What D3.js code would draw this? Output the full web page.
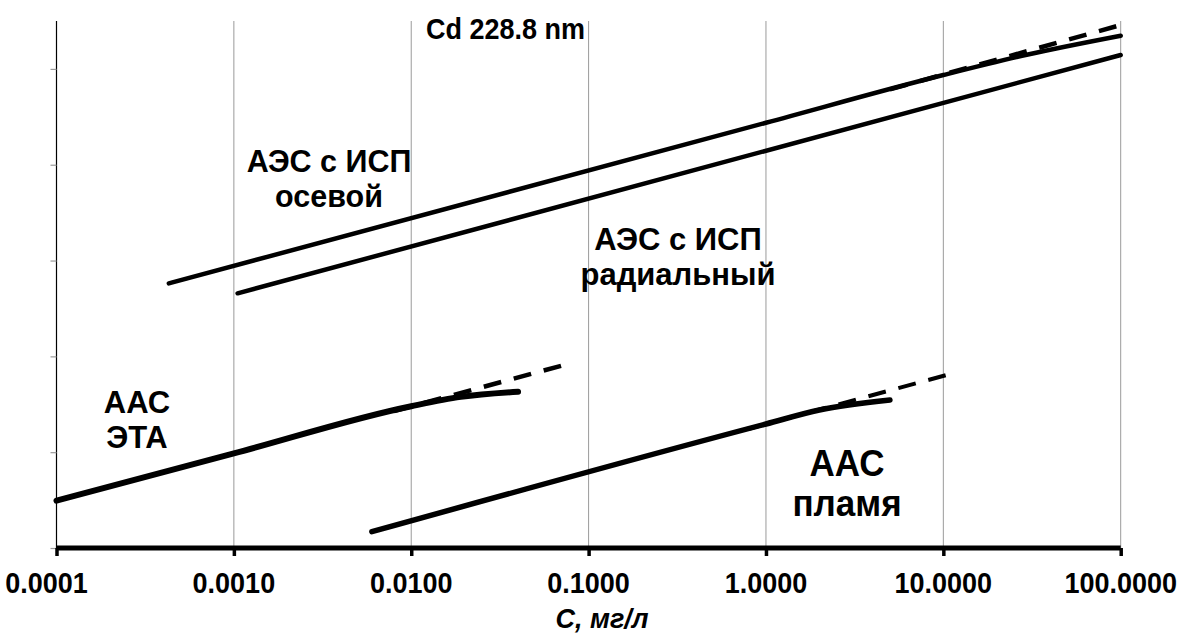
<!DOCTYPE html>
<html>
<head>
<meta charset="utf-8">
<script src="https://cdn.jsdelivr.net/npm/d3@7"></script>
<style>
  html, body { margin: 0; padding: 0; background: #fff; }
  svg { display: block; }
  text { font-family: "Liberation Sans", Arial, Helvetica, sans-serif; font-weight: bold; fill: #000; }
</style>
</head>
<body>
<svg id="chart" width="1183" height="634"></svg>
<script>
// Concentration decades on the log axis and their labels
const xTicks = [0.0001, 0.001, 0.01, 0.1, 1, 10, 100];
const xTickLabels = ["0.0001", "0.0010", "0.0100", "0.1000", "1.0000", "10.0000", "100.0000"];
const yTicks = [0, 1, 2, 3, 4, 5];

// Calibration curves: [concentration, mg/l ; log signal]
const aesAxial     = [[0.00043, 2.762], [1, 4.438], [10, 4.936], [30, 5.15], [100, 5.346]];
const aesAxialFit  = [[5, 4.786], [100, 5.458]];
const aesRadial    = [[0.00105, 2.658], [100, 5.145]];
const aasEta       = [[0.0001, 0.494], [0.001, 0.987], [0.01, 1.48], [0.019, 1.577], [0.04, 1.631]];
const aasEtaFit    = [[0.008, 1.43], [0.078, 1.925]];
const aasFlame     = [[0.006, 0.170], [1, 1.294], [2, 1.44], [5, 1.545]];
const aasFlameFit  = [[0.8, 1.245], [10.8, 1.813]];

const svg = d3.select("#chart");
const plotLeft = 56.5, plotRight = 1120.7, plotTop = 21, plotBottom = 548;

const x = d3.scaleLog().domain([0.0001, 100]).range([plotLeft, plotRight]);
const y = d3.scaleLinear().domain([0, 5.5]).range([plotBottom, plotTop]);

// Vertical gridlines at each decade
svg.append("g").selectAll("line")
  .data(xTicks.slice(1))
  .join("line")
  .attr("x1", d => x(d)).attr("x2", d => x(d))
  .attr("y1", plotTop).attr("y2", plotBottom)
  .attr("stroke", "#9a9a9a").attr("stroke-width", 1);

// Y axis: thin black line with short grey ticks, no labels
const yAxis = svg.append("g")
  .attr("transform", `translate(${plotLeft},0)`)
  .call(d3.axisLeft(y).tickValues(yTicks).tickSize(6).tickFormat(""));
yAxis.select(".domain").attr("stroke", "#000").attr("stroke-width", 1.2)
  .attr("d", `M0,${plotTop}V${plotBottom}`);
yAxis.selectAll(".tick line").attr("stroke", "#9a9a9a").attr("stroke-width", 1.2);

// X axis: heavy baseline with stubby ticks
const xAxis = svg.append("g")
  .attr("transform", `translate(0,${plotBottom})`)
  .call(d3.axisBottom(x).tickValues(xTicks).tickSize(8).tickFormat(""));
xAxis.select(".domain").attr("stroke", "#000").attr("stroke-width", 5)
  .attr("d", `M${plotLeft},0H${plotRight}`);
xAxis.selectAll(".tick line").attr("stroke", "#000").attr("stroke-width", 3.5);

// Tick labels, slightly tall bold face
svg.append("g").selectAll("text")
  .data(xTicks)
  .join("text")
  .attr("text-anchor", "middle")
  .attr("font-size", 27)
  .attr("transform", (d, i) => `translate(${x(d) + (i === 0 ? -10 : 0)},593) scale(1,1.08)`)
  .text((d, i) => xTickLabels[i]);

// Axis title
svg.append("text")
  .attr("text-anchor", "middle")
  .attr("font-size", 27)
  .attr("font-style", "italic")
  .attr("transform", "translate(602,628) scale(1,1.05)")
  .text("С, мг/л");

// Curves
const line = d3.line()
  .x(d => x(d[0]))
  .y(d => y(d[1]))
  .curve(d3.curveMonotoneX);

function drawDashed(data, width) {
  svg.append("path").datum(data)
    .attr("d", line)
    .attr("fill", "none").attr("stroke", "#000")
    .attr("stroke-width", width)
    .attr("stroke-dasharray", "18,13");
}
function drawSolid(data, width) {
  svg.append("path").datum(data)
    .attr("d", line)
    .attr("fill", "none").attr("stroke", "#000")
    .attr("stroke-width", width)
    .attr("stroke-linecap", "round")
    .attr("stroke-linejoin", "round");
}

drawDashed(aesAxialFit, 4.5);
drawDashed(aasEtaFit, 4.5);
drawDashed(aasFlameFit, 4);
drawSolid(aesAxial, 4.5);
drawSolid(aesRadial, 4.5);
drawSolid(aasEta, 6);
drawSolid(aasFlame, 5.5);

// Curve labels, one text element per row
function label(lines, cx, baseline, size, lh) {
  const g = svg.append("g");
  lines.forEach((s, i) => g.append("text")
    .attr("text-anchor", "middle")
    .attr("font-size", size)
    .attr("transform", `translate(${cx},${baseline + i * lh}) scale(1,1.04)`)
    .text(s));
}

svg.append("text")
  .attr("font-size", 27)
  .attr("transform", "translate(426,39) scale(1,1.08)")
  .text("Cd 228.8 nm");

label(["АЭС с ИСП", "осевой"], 329, 172, 30.5, 35);
label(["АЭС с ИСП", "радиальный"], 678, 250, 31, 35);
label(["ААС", "ЭТА"], 137, 413, 31, 35);
label(["ААС", "пламя"], 847, 476, 35, 40);
</script>
</body>
</html>
